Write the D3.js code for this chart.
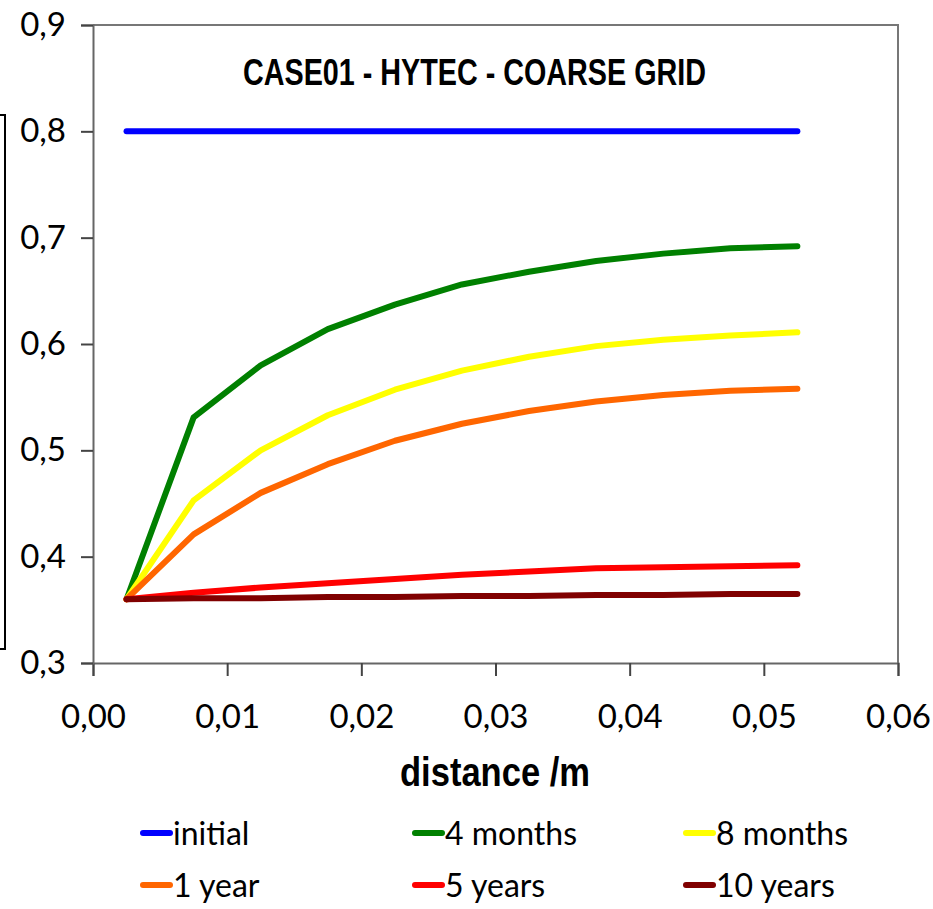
<!DOCTYPE html>
<html>
<head>
<meta charset="utf-8">
<script src="https://cdn.jsdelivr.net/npm/d3@7"></script>
<style>
  body { margin: 0; background: #fff; }
  svg { display: block; }
  .tick text { font-family: Lato, "Open Sans", sans-serif; font-size: 33px; fill: #000; }
  .leg text { font-family: Lato, "Open Sans", sans-serif; font-size: 32px; fill: #000; }
</style>
</head>
<body>
<div id="chart"></div>
<script>
// distance (m) of the cell centres
var distance = [0.0025, 0.0075, 0.0125, 0.0175, 0.0225, 0.0275, 0.0325, 0.0375, 0.0425, 0.0475, 0.0525];

var initial   = [0.800, 0.800, 0.800, 0.800, 0.800, 0.800, 0.800, 0.800, 0.800, 0.800, 0.800];
var months4   = [0.360, 0.531, 0.580, 0.614, 0.637, 0.656, 0.668, 0.678, 0.685, 0.690, 0.692];
var months8   = [0.360, 0.453, 0.500, 0.533, 0.557, 0.575, 0.588, 0.598, 0.604, 0.608, 0.611];
var year1     = [0.360, 0.421, 0.460, 0.487, 0.509, 0.525, 0.537, 0.546, 0.552, 0.556, 0.558];
var years5    = [0.360, 0.366, 0.371, 0.375, 0.379, 0.383, 0.386, 0.389, 0.390, 0.391, 0.392];
var years10   = [0.360, 0.361, 0.361, 0.362, 0.362, 0.363, 0.363, 0.364, 0.364, 0.365, 0.365];

var seriesNames = ["initial", "4 months", "8 months", "1 year", "5 years", "10 years"];
var seriesColors = ["#0000ff", "#008000", "#ffff00", "#ff6600", "#ff0000", "#800000"];
var seriesValues = [initial, months4, months8, year1, years5, years10];

var xTicks = [0, 0.01, 0.02, 0.03, 0.04, 0.05, 0.06];
var yTicks = [0.3, 0.4, 0.5, 0.6, 0.7, 0.8, 0.9];

var width = 933, height = 909;
var svg = d3.select("#chart").append("svg")
    .attr("width", width)
    .attr("height", height);

var x = d3.scaleLinear().domain([0, 0.06]).range([93, 898]);
var y = d3.scaleLinear().domain([0.3, 0.9]).range([663, 25]);
var comma = function(f) { return function(d) { return d3.format(f)(d).replace(".", ","); }; };

// cut-off box on the left edge
svg.append("rect")
    .attr("x", -20).attr("y", 115)
    .attr("width", 25).attr("height", 534)
    .attr("fill", "none").attr("stroke", "#000").attr("stroke-width", 2);

// plot border (top + right)
svg.append("path")
    .attr("d", "M" + x(0) + "," + y(0.9) + "H" + x(0.06) + "V" + y(0.3))
    .attr("fill", "none").attr("stroke", "#777").attr("stroke-width", 2);

var xAxis = svg.append("g")
    .attr("transform", "translate(0," + y(0.3) + ")")
    .call(d3.axisBottom(x).tickValues(xTicks).tickFormat(comma(".2f")).tickSize(13).tickPadding(22));
var yAxis = svg.append("g")
    .attr("transform", "translate(" + x(0) + ",0)")
    .call(d3.axisLeft(y).tickValues(yTicks).tickFormat(comma(".1f")).tickSize(12).tickPadding(15));

[xAxis, yAxis].forEach(function(a) {
  a.select(".domain").attr("stroke", "#666").attr("stroke-width", 2);
  a.selectAll(".tick line").attr("stroke", "#444").attr("stroke-width", 2);
});
xAxis.selectAll(".tick text").attr("dy", "0.9em");

var line = d3.line()
    .x(function(d, i) { return x(distance[i]); })
    .y(function(d) { return y(d); });

svg.append("g").selectAll("path")
    .data(seriesValues)
    .enter().append("path")
      .attr("d", line)
      .attr("fill", "none")
      .attr("stroke", function(d, i) { return seriesColors[i]; })
      .attr("stroke-width", 6)
      .attr("stroke-linecap", "round")
      .attr("stroke-linejoin", "round");

// title
svg.append("text")
    .attr("x", 243).attr("y", 85)
    .attr("textLength", 463).attr("lengthAdjust", "spacingAndGlyphs")
    .style("font-family", "'Liberation Sans', Arial, sans-serif")
    .style("font-weight", "bold").style("font-size", "37px")
    .text("CASE01  - HYTEC - COARSE GRID");

// x axis title
svg.append("text")
    .attr("x", 400).attr("y", 786)
    .attr("textLength", 190).attr("lengthAdjust", "spacingAndGlyphs")
    .style("font-family", "'Liberation Sans', Arial, sans-serif")
    .style("font-weight", "bold").style("font-size", "40px")
    .text("distance /m");

// legend
var legX = [140, 412, 683], legY = [833, 885];
var leg = svg.append("g").attr("class", "leg").selectAll("g")
    .data(seriesNames)
    .enter().append("g")
      .attr("transform", function(d, i) { return "translate(" + legX[i % 3] + "," + legY[Math.floor(i / 3)] + ")"; });
leg.append("line")
    .attr("x1", 3).attr("x2", 30).attr("y1", 0).attr("y2", 0)
    .attr("stroke", function(d, i) { return seriesColors[i]; })
    .attr("stroke-width", 6).attr("stroke-linecap", "round");
leg.append("text")
    .attr("x", 33).attr("y", 0).attr("dy", "0.36em")
    .text(function(d) { return d; });
</script>
</body>
</html>
